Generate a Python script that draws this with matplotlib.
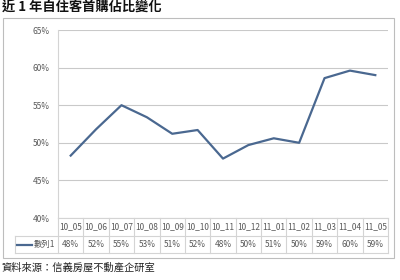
import matplotlib
matplotlib.use('Agg')
import matplotlib.pyplot as plt
from matplotlib.patches import Rectangle
from matplotlib.ticker import FuncFormatter
import matplotlib.transforms as mtransforms

plt.rcParams['font.family'] = ['Noto Sans CJK TC', 'DejaVu Sans']

# data
months = ['10_05', '10_06', '10_07', '10_08', '10_09', '10_10', '10_11',
          '10_12', '11_01', '11_02', '11_03', '11_04', '11_05']
share = [48.3, 51.8, 55.0, 53.4, 51.2, 51.7, 47.9, 49.7, 50.6, 50.0, 58.6, 59.6, 59.0]
series_name = '數列1'
title = '近 1 年自住客首購佔比變化'
source = '資料來源：信義房屋不動產企研室'

line_color = '#4a6890'
grid_color = '#c9c9c9'
text_color = '#595959'
table_color = '#d4d4d4'

W, H = 400, 280
fig = plt.figure(figsize=(4, 2.8), dpi=100)

# outer chart frame
fig.patches.append(Rectangle((3 / W, 1 - 258 / H), 391 / W, 240 / H,
                             transform=fig.transFigure, fill=False,
                             edgecolor='#bdbdbd', linewidth=0.8))

ax = fig.add_axes([58 / W, 1 - 218 / H, 330 / W, 188 / H])
x = list(range(len(months)))
ax.plot(x, share, color=line_color, linewidth=1.6)

ax.set_xlim(-0.5, len(months) - 0.5)
ax.set_ylim(40, 65)
ax.set_yticks([40, 45, 50, 55, 60, 65])
ax.yaxis.set_major_formatter(FuncFormatter(lambda v, p: f'{v:.0f}%'))
ax.tick_params(axis='y', length=0, pad=6, labelsize=6, labelcolor=text_color)
ax.set_xticks([])
ax.grid(axis='y', color=grid_color, linewidth=0.8)
ax.set_axisbelow(True)
for side in ['top', 'right', 'bottom']:
    ax.spines[side].set_visible(False)
ax.spines['left'].set_color(table_color)
ax.spines['left'].set_linewidth(0.8)

# data table under the plot
tr = mtransforms.blended_transform_factory(ax.transData, ax.transAxes)
row1 = -18 / 188
row2 = -35 / 188
left_cell = (15 - 58) / 330
ax.plot([-0.5, len(months) - 0.5], [0, 0], transform=tr, color=table_color,
        linewidth=0.8, clip_on=False)
ax.plot([left_cell, 1], [row1, row1], transform=ax.transAxes, color=table_color,
        linewidth=0.8, clip_on=False)
ax.plot([left_cell, 1], [row2, row2], transform=ax.transAxes, color=table_color,
        linewidth=0.8, clip_on=False)
ax.plot([left_cell, left_cell], [row1, row2], transform=ax.transAxes,
        color=table_color, linewidth=0.8, clip_on=False)
for i in range(len(months) + 1):
    ax.plot([i - 0.5, i - 0.5], [0, row2], transform=tr, color=table_color,
            linewidth=0.8, clip_on=False)

for i, (m, v) in enumerate(zip(months, share)):
    ax.text(i, row1 / 2, m, transform=tr, ha='center', va='center',
            fontsize=6, color=text_color)
    ax.text(i, (row1 + row2) / 2, f'{v:.0f}%', transform=tr, ha='center',
            va='center', fontsize=6, color=text_color)

# legend key inside the table
ax.plot([(17 - 58) / 330, (32 - 58) / 330], [(row1 + row2) / 2] * 2,
        transform=ax.transAxes, color=line_color, linewidth=1.6, clip_on=False)
ax.text((34 - 58) / 330, (row1 + row2) / 2, series_name, transform=ax.transAxes,
        ha='left', va='center', fontsize=6, color=text_color)

fig.text(2 / W, 1 - 8 / H, title, ha='left', va='center', fontsize=9.5,
         fontweight='bold', color='#111111')
fig.text(1 / W, 1 - 268 / H, source, ha='left', va='center', fontsize=7.4,
         color='#222222')

fig.savefig('out.png', dpi=100, facecolor='white')
